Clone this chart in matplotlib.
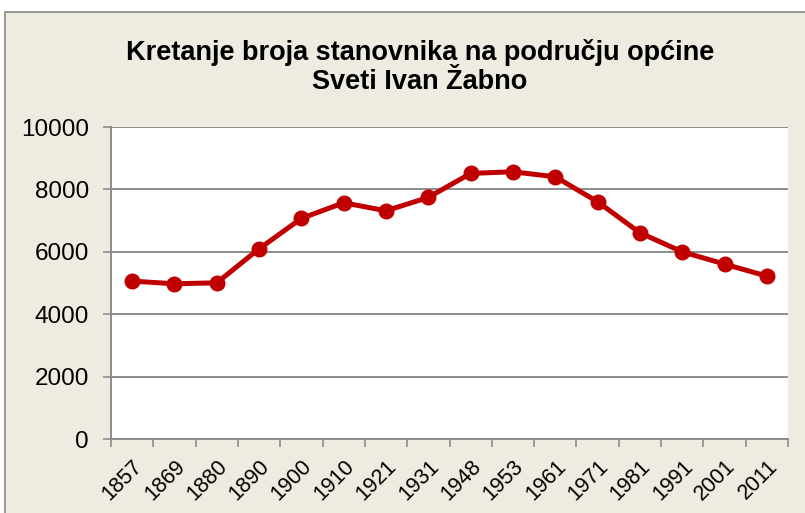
import matplotlib.pyplot as plt
from matplotlib.patches import Rectangle

# census years and population
years = ['1857', '1869', '1880', '1890', '1900', '1910', '1921', '1931',
         '1948', '1953', '1961', '1971', '1981', '1991', '2001', '2011']
population = [5061, 4974, 5006, 6096, 7071, 7571, 7314, 7744,
              8513, 8564, 8404, 7603, 6609, 6000, 5606, 5221]

title = 'Kretanje broja stanovnika na području općine\nSveti Ivan Žabno'

plt.rcParams['font.family'] = ['Liberation Sans', 'DejaVu Sans']

fig = plt.figure(figsize=(8.05, 5.13), dpi=100)
fig.patch.set_facecolor('white')

# beige chart area with a gray border
bg = Rectangle((5 / 805, -0.05), 1.0, 1 - 12 / 513 + 0.05, transform=fig.transFigure,
               facecolor='#EEECE1', edgecolor='#888888', linewidth=1.2, zorder=-10)
fig.patches.append(bg)

ax = fig.add_axes([111 / 805, (513 - 439) / 513, 677 / 805, 312 / 513])
ax.set_facecolor('white')

x = range(len(years))
ax.plot(x, population, color='#C00000', linewidth=3.6, marker='o',
        markersize=10.5, zorder=3)

ax.set_xlim(-0.5, len(years) - 0.5)
ax.set_ylim(0, 10000)
ax.set_yticks(range(0, 10001, 2000))
ax.grid(axis='y', color='#8C8C8C', linewidth=1.4)
ax.set_axisbelow(True)

ax.set_xticks(list(x))
ax.set_xticklabels(years, rotation=45, ha='right', rotation_mode='anchor', fontsize=15.5)
ax.set_xticks([i - 0.5 for i in range(len(years) + 1)], minor=True)
ax.tick_params(axis='x', which='major', length=0, pad=12)
ax.tick_params(axis='x', which='minor', length=6, color='#8C8C8C', width=1.2)
ax.tick_params(axis='y', labelsize=17.5, length=6, color='#8C8C8C', width=1.2, pad=10)

for side in ['top', 'right']:
    ax.spines[side].set_visible(False)
for side in ['left', 'bottom']:
    ax.spines[side].set_color('#8C8C8C')
    ax.spines[side].set_linewidth(1.4)

fig.text(420 / 805, 1 - 67 / 513, title, ha='center', va='center',
         fontsize=19.5, fontweight='bold', linespacing=1.15)

fig.savefig('out.png', dpi=100, facecolor=fig.get_facecolor())
